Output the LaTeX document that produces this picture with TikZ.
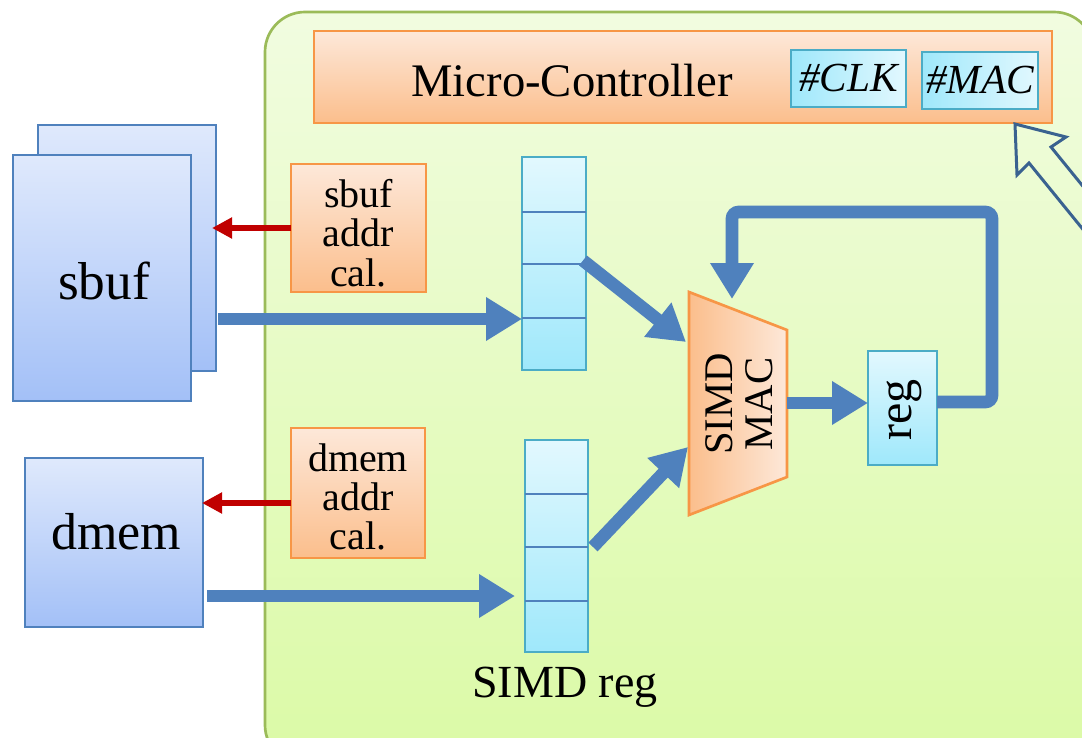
\documentclass[tikz,border=0pt]{standalone}
\usepackage{fontspec}
\setmainfont{Liberation Serif}
\usetikzlibrary{arrows.meta,calc}

\definecolor{panelTop}{HTML}{F1FCE0}
\definecolor{panelBot}{HTML}{DBFAA6}
\definecolor{panelLine}{HTML}{9BBB59}
\definecolor{memTop}{HTML}{DFE9FC}
\definecolor{memBot}{HTML}{A3C0F7}
\definecolor{memLine}{HTML}{4F81BD}
\definecolor{orgTop}{HTML}{FDE8D9}
\definecolor{orgBot}{HTML}{FBBE8C}
\definecolor{orgLine}{HTML}{F79646}
\definecolor{cyLight}{HTML}{E2F8FE}
\definecolor{cyDark}{HTML}{9FE8FB}
\definecolor{cyLine}{HTML}{4BACC6}
\definecolor{flow}{HTML}{4F81BD}
\definecolor{addrRed}{HTML}{C00000}
\definecolor{hollowLine}{HTML}{3A6290}

\begin{document}
\begin{tikzpicture}[x=0.75pt,y=-0.75pt,
  sz/.style 2 args={minimum width=#1*0.75pt, minimum height=#2*0.75pt},
  membox/.style={draw=memLine, line width=2pt, top color=memTop, bottom color=memBot,
                 inner sep=0pt, outer sep=0pt},
  orgbox/.style={draw=orgLine, line width=2pt, top color=orgTop, bottom color=orgBot,
                 inner sep=0pt, outer sep=0pt},
  regbox/.style={draw=cyLine, line width=2pt, top color=cyLight, bottom color=cyDark,
                 inner sep=0pt, outer sep=0pt},
  cntbox/.style={draw=cyLine, line width=2pt, left color=cyDark, right color=cyLight,
                 inner sep=0pt, outer sep=0pt},
  divider/.style={draw=memLine, line width=2pt},
  bigflow/.style={draw=flow, line width=9.5pt, -{Triangle[length=27pt,width=31pt]}},
  addrflow/.style={draw=addrRed, line width=4.5pt, -{Triangle[length=15pt,width=15pt]}},
  txt/.style={inner sep=0pt, text=black}
]
\useasboundingbox (0,0) rectangle (1082,738);
\clip (0,0) rectangle (1082,738);
\fill[white] (0,0) rectangle (1082,738);

% accelerator panel
\draw[draw=panelLine, line width=2pt, top color=panelTop, bottom color=panelBot,
      rounded corners=30] (265,12) rectangle (1094,765);

% micro-controller with its counters
\node[orgbox, sz={738}{92}] (ctrl) at (683,77) {};
\node[txt, anchor=base, font=\fontsize{35}{40}\selectfont] (ctrltxt) at (572,97) {Micro-Controller};
\node[cntbox, sz={115}{57}, font=\fontsize{31}{34}\selectfont\itshape] (clk) at (848.5,78.5) {\#CLK};
\node[cntbox, sz={116}{57}, font=\fontsize{31}{34}\selectfont\itshape] (mac) at (980,80.5) {\#MAC};

% hollow arrow entering the controller from outside
\draw[draw=hollowLine, line width=2.25pt, line join=miter]
  (1015,124) -- (1066,137) -- (1051,147) -- (1114,224.5)
  -- (1092,240.5) -- (1029,163) -- (1017,175) -- cycle;

% sbuf (two stacked banks)
\node[membox, sz={178}{246}] (sbufB) at (127,248) {};
\node[membox, sz={178}{246}] (sbuf) at (102,278) {};
\node[txt, font=\fontsize{40}{42}\selectfont] (sbuftxt) at (104,281) {sbuf};

% dmem
\node[membox, sz={178}{169}] (dmem) at (114,542.5) {};
\node[txt, font=\fontsize{39}{42}\selectfont] (dmemtxt) at (116,532) {dmem};

% address calculators
\node[orgbox, sz={135}{128}] (sbufaddr) at (358.5,228) {};
\node[txt, align=center, font=\fontsize{30}{29.5}\selectfont] (sbufaddrtxt) at (358.5,233)
  {sbuf\\addr\\cal.};
\node[orgbox, sz={134}{130}] (dmemaddr) at (358,493) {};
\node[txt, align=center, font=\fontsize{30}{29.5}\selectfont] (dmemaddrtxt) at (358,497)
  {dmem\\addr\\cal.};

% SIMD registers
\node[regbox, sz={64}{213}] (reg1) at (554,263.5) {};
\foreach \yy in {212,264,318} \draw[divider] (reg1.west |- 0,\yy) -- (reg1.east |- 0,\yy);
\node[regbox, sz={63}{212}] (reg2) at (556.5,546) {};
\foreach \yy in {494,547,601} \draw[divider] (reg2.west |- 0,\yy) -- (reg2.east |- 0,\yy);
\node[txt, anchor=base, font=\fontsize{34.5}{38}\selectfont] (regtxt) at (565,697) {SIMD reg};

% SIMD MAC unit
\draw[draw=orgLine, line width=2pt, left color=orgBot, right color=orgTop, line join=miter]
  (689,292) -- (787,330) -- (787,477) -- (689,515) -- cycle;
\node[txt, rotate=90, align=center, font=\fontsize{30.5}{30}\selectfont] (alutxt) at (739,404) {SIMD\\MAC};
\coordinate (aluin1) at (686,342);
\coordinate (aluin2) at (688,447);
\coordinate (aluout) at (787,403);
\coordinate (alutop) at (732,299);

% accumulator register
\node[regbox, sz={69}{114}] (acc) at (902.5,408) {};
\node[txt, rotate=90, font=\fontsize{36}{38}\selectfont] (acctxt) at (904,410) {reg};

% address requests
\draw[addrflow] (sbufaddr.west) -- ($(sbufB.east |- sbufaddr.west)+(-4,0)$);
\draw[addrflow] ($(dmemaddr.west)+(0,10)$) -- ($(dmem.east |- dmemaddr.west)+(-1,10)$);

% data paths
\coordinate (sbout) at ($(sbufB.east)+(2,71)$);
\draw[bigflow] (sbout) -- (reg1.west |- sbout);
\coordinate (dmout) at ($(dmem.east)+(4,53.5)$);
\draw[bigflow] (dmout) -- ($(reg2.west |- dmout)+(-10,0)$);
\draw[bigflow] ($(reg1.east)+(-3,-3)$) -- (aluin1);
\draw[bigflow] ($(reg2.east)+(5,1)$) -- (aluin2);
\draw[bigflow] (aluout) -- (acc.west |- aluout);
\draw[bigflow, rounded corners=5] ($(acc.east)+(0,-6)$) -| (992,212) -| (alutop);
\end{tikzpicture}
\end{document}
